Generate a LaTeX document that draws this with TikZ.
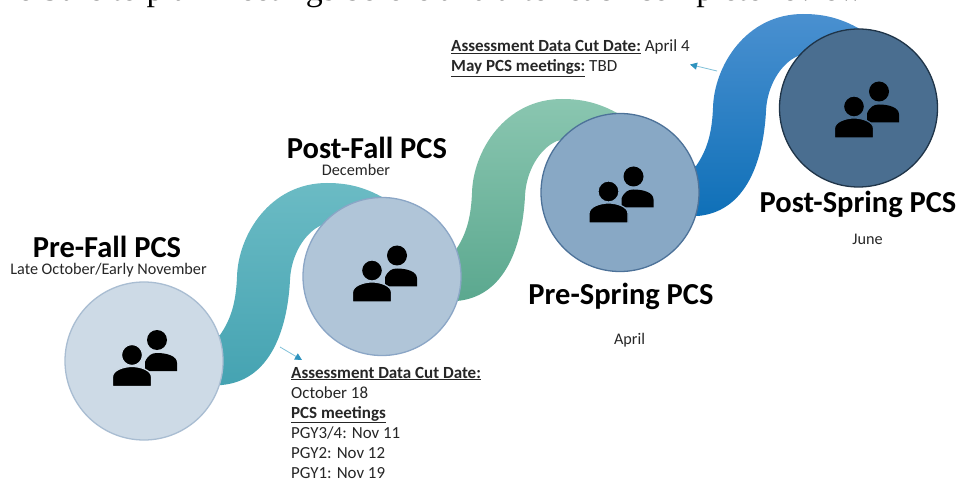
\documentclass[tikz,border=0pt]{standalone}
\usepackage{fontspec}
\setmainfont{Carlito}
\newfontfamily\serifhead{Liberation Serif}
\usetikzlibrary{arrows.meta}
\definecolor{ca}{HTML}{CDDAE6}\definecolor{ea}{HTML}{A9BDD2}
\definecolor{cb}{HTML}{B0C5D8}\definecolor{eb}{HTML}{8BA6C6}
\definecolor{cc}{HTML}{88A8C5}\definecolor{ec}{HTML}{4D7299}
\definecolor{cd}{HTML}{4A6E90}\definecolor{ed}{HTML}{1F3448}
\definecolor{inktext}{HTML}{262626}
\definecolor{pointerblue}{HTML}{2E93BE}
\definecolor{pointerline}{HTML}{7FC0D8}
\definecolor{ribAtop}{HTML}{6BBBC4}\definecolor{ribAmid}{HTML}{50B4C2}\definecolor{ribAbot}{HTML}{45A3B2}
\definecolor{ribBtop}{HTML}{8AC6B0}\definecolor{ribBmid}{HTML}{72BEA3}\definecolor{ribBbot}{HTML}{5BA88F}
\definecolor{ribCtop}{HTML}{4A90D0}\definecolor{ribCmid}{HTML}{1F80C8}\definecolor{ribCbot}{HTML}{0F70B8}
\newcommand{\ribbonpath}{(200,335) -- (220,335) .. controls (232,318) and (236,300) .. (237,277) .. controls (238,235) and (270,183) .. (327,183) .. controls (350,183) and (370,188) .. (395,205) -- (335,222) -- (322,225) .. controls (305,232) and (291,255) .. (290,280) .. controls (288,320) and (275,380) .. (222,385) -- (200,385) -- cycle}
\newcommand{\sizedtext}[1]{\fontsize{#1}{#1}\selectfont}
\tikzset{
  x=1pt,y=-1pt,
  stage/.style={circle,minimum size=158pt,inner sep=0pt,line width=1.3pt},
  title/.style={anchor=base,font=\sizedtext{30.5}\bfseries,text=black,inner sep=0pt},
  subtitle/.style={anchor=base,font=\sizedtext{16.2},text=inktext,inner sep=0pt},
  bodyline/.style={anchor=base west,font=\sizedtext{16.9},text=inktext,inner sep=0pt},
  pointer/.style={draw=pointerline,line width=0.8pt,-{Triangle[length=7pt,width=7pt,color=pointerblue]}},
  people/.pic={
    \fill[black] (3,11) -- (3,2) .. controls (6,-5) and (10,-7) .. (15,-7) .. controls (25,-7) and (35,-4) .. (35,3) -- (35,11) -- cycle;
    \fill[black] (15,-20) circle (10);
    \filldraw[black,draw=#1,line width=1.2pt] (-29.5,26.5) -- (-29.5,17) .. controls (-29.5,10) and (-18,6.5) .. (-10,6.5) .. controls (-2,6.5) and (9.5,10) .. (9.5,17) -- (9.5,26.5) -- cycle;
    \filldraw[black,draw=#1,line width=1.2pt] (-10,-5) circle (10.5);
  }
}
\begin{document}
\begin{tikzpicture}
\useasboundingbox (0,0) rectangle (959,481);
\fill[white] (0,0) rectangle (959,481);
\begin{scope}
\clip (0,0) rectangle (959,481);
\node[anchor=base west,inner sep=0pt,font=\serifhead\sizedtext{33.9},text=black] (head) at (0.5,0.8) {he Sure to plan meetings before and after each complete review};
\end{scope}
% ribbons
\shade[top color=ribAtop,middle color=ribAmid,bottom color=ribAbot] \ribbonpath;
\begin{scope}[shift={(235,-84)}]
\shade[top color=ribBtop,middle color=ribBmid,bottom color=ribBbot] \ribbonpath;
\end{scope}
\begin{scope}[shift={(476,-169)}]
\shade[top color=ribCtop,middle color=ribCmid,bottom color=ribCbot] \ribbonpath;
\end{scope}
% stages
\node[stage,fill=ca,draw=ea] (c1) at (144,361) {};
\node[stage,fill=cb,draw=eb] (c2) at (382,276.5) {};
\node[stage,fill=cc,draw=ec] (c3) at (620,192.5) {};
\node[stage,fill=cd,draw=ed] (c4) at (858.5,108) {};
\pic at ([shift={(-2,-1)}]c1.center) {people={ca}};
\pic at ([shift={(0,-1)}]c2.center) {people={cb}};
\pic at ([shift={(-1.5,4)}]c3.center) {people={cc}};
\pic at ([shift={(5.5,3.5)}]c4.center) {people={cd}};
% titles
\node[title] (t1) at (107,258) {Pre-Fall PCS};
\node[subtitle] (s1) at (108.5,275) {Late October/Early November};
\node[title] (t2) at (367,159) {Post-Fall PCS};
\node[subtitle] (s2) at (356,176) {December};
\node[title] (t3) at (621,305) {Pre-Spring PCS};
\node[subtitle] (s3) at (629.5,344) {April};
\node[title] (t4) at (858,213) {Post-Spring PCS};
\node[subtitle] (s4) at (867.5,245) {June};
% notes
\node[bodyline,font=\sizedtext{17}\bfseries] (n1) at (291,378) {\underline{Assessment Data Cut Date:}};
\node[bodyline] (n2) at (291,398) {October 18};
\node[bodyline,font=\sizedtext{17}\bfseries] (n3) at (291,418) {\underline{PCS meetings}};
\node[bodyline] (n4) at (291,438.5) {PGY3/4: Nov 11};
\node[bodyline] (n5) at (291,458.5) {PGY2: Nov 12};
\node[bodyline] (n6) at (291,478.5) {PGY1: Nov 19};
\node[bodyline,font=\sizedtext{17}] (m1) at (451,52) {\textbf{\underline{Assessment Data Cut Date:}} April 4};
\node[bodyline,font=\sizedtext{17}] (m2) at (451,72) {\textbf{\underline{May PCS meetings:}} TBD};
% pointers
\coordinate (p1s) at (280,347);
\coordinate (p1e) at (302,360);
\coordinate (p2s) at (717,71);
\coordinate (p2e) at (690,64.5);
\draw[pointer] (p1s) -- (p1e);
\draw[pointer] (p2s) -- (p2e);
\end{tikzpicture}
\end{document}
